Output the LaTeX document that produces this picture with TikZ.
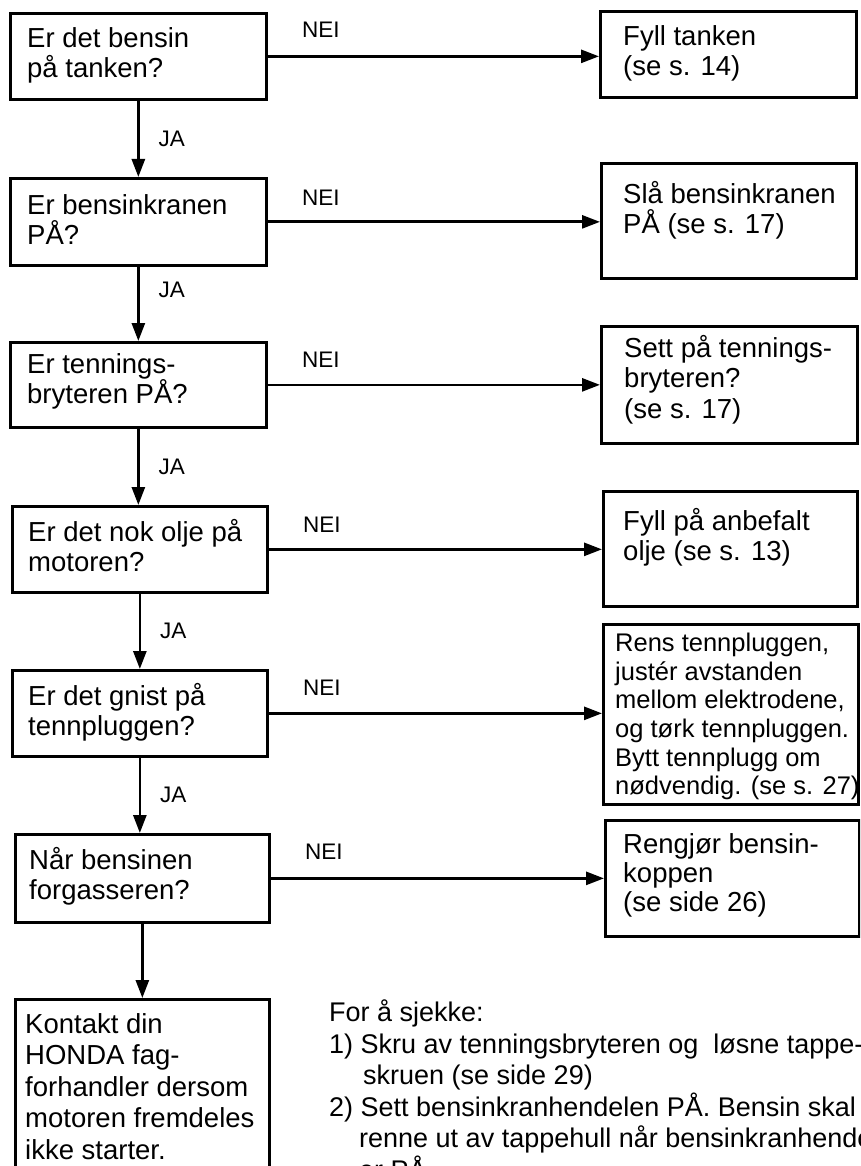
\documentclass[tikz,border=0pt]{standalone}
\usepackage{fontspec}
\setmainfont{Liberation Sans}
\usetikzlibrary{arrows.meta}

\begin{document}
\begin{tikzpicture}[x=1pt, y=-1pt,
  mybox/.style={draw, line width=2.7pt, inner sep=0pt, anchor=north west},
  mytext/.style={anchor=north west, inner sep=0pt, align=left,
    font=\fontsize{27.5}{30.5}\selectfont},
  mylabel/.style={inner sep=0pt, font=\fontsize{22.5}{26}\selectfont},
  myarrow/.style={line width=2.7pt, -{Triangle[length=18pt, width=13pt]}}]
  \clip (0,0) rectangle (860,1166);

%questions
  \node[mybox, minimum width=256pt, minimum height=86pt] (q1) at (9,12) {};
  \node[mybox, minimum width=256pt, minimum height=87pt] (q2) at (9,177) {};
  \node[mybox, minimum width=256pt, minimum height=85pt] (q3) at (9,341) {};
  \node[mybox, minimum width=255pt, minimum height=86pt] (q4) at (11,505) {};
  \node[mybox, minimum width=255pt, minimum height=86pt] (q5) at (11,669) {};
  \node[mybox, minimum width=254pt, minimum height=88pt] (q6) at (14,833) {};
  \node[mybox, minimum width=254pt, minimum height=200pt] (q7) at (14,998) {};

  \node[mytext] (q1t) at (27,27) {Er det bensin\\på tanken?};
  \node[mytext] (q2t) at (27,194) {Er bensinkranen\\PÅ?};
  \node[mytext] (q3t) at (27,353) {Er tennings-\\bryteren PÅ?};
  \node[mytext] (q4t) at (28,519) {Er det nok olje på\\motoren?};
  \node[mytext] (q5t) at (28,683) {Er det gnist på\\tennpluggen?};
  \node[mytext] (q6t) at (29,847) {Når bensinen\\forgasseren?};
  \node[mytext, font=\fontsize{27.5}{31.5}\selectfont] (q7t) at (25,1013)
    {Kontakt din\\HONDA fag-\\forhandler dersom\\motoren fremdeles\\ikke starter.};

%answers
  \node[mybox, minimum width=256pt, minimum height=86pt] (a1) at (599,10) {};
  \node[mybox, minimum width=255pt, minimum height=115pt] (a2) at (600,162) {};
  \node[mybox, minimum width=256pt, minimum height=117pt] (a3) at (600,325) {};
  \node[mybox, minimum width=254pt, minimum height=115pt] (a4) at (602,490) {};
  \node[mybox, minimum width=255pt, minimum height=180pt] (a5) at (602,623) {};
  \node[mybox, minimum width=254pt, minimum height=116pt] (a6) at (604,819) {};

  \node[mytext] (a1t) at (623,25) {Fyll tanken\\(se s. 14)};
  \node[mytext] (a2t) at (623,181) {Slå bensinkranen\\PÅ (se s. 17)};
  \node[mytext] (a3t) at (624,335) {Sett på tennings-\\bryteren?\\(se s. 17)};
  \node[mytext] (a4t) at (623,508) {Fyll på anbefalt\\olje (se s. 13)};
  \node[mytext, font=\fontsize{25.5}{28.6}\selectfont] (a5t) at (615,633)
    {Rens tennpluggen,\\justér avstanden\\mellom elektrodene,\\og tørk tennpluggen.\\Bytt tennplugg om\\nødvendig. (se s. 27)};
  \node[mytext, font=\fontsize{27.5}{29}\selectfont] (a6t) at (623,833) {Rengjør bensin-\\koppen\\(se side 26)};

%note
  \node[mytext, font=\fontsize{27}{31.5}\selectfont] (note) at (329,1000) {For å sjekke:\\1) Skru av tenningsbryteren og\ \ løsne tappe-\\\hspace*{34pt}skruen (se side 29)\\2) Sett bensinkranhendelen PÅ. Bensin skal da\\\hspace*{30pt}renne ut av tappehull når bensinkranhendelen\\\hspace*{30pt}er PÅ.};

%JA
  \draw[myarrow] (q1.south) -- node[mylabel, midway, right=19pt] (j1) {JA} (q1.south |- q2.north);
  \draw[myarrow] (q2.south) -- node[mylabel, pos=0.31, right=19pt] (j2) {JA} (q2.south |- q3.north);
  \draw[myarrow] (q3.south) -- node[mylabel, midway, right=19pt] (j3) {JA} (q3.south |- q4.north);
  \draw[myarrow] (q4.south) -- node[mylabel, midway, right=19pt] (j4) {JA} (q4.south |- q5.north);
  \draw[myarrow] (q5.south) -- node[mylabel, midway, right=19pt] (j5) {JA} (q5.south |- q6.north);
  \draw[myarrow] (q6.south) -- (q6.south |- q7.north);

%NEI
  \draw[myarrow] (q1.east) -- node[mylabel, pos=0, anchor=south west, xshift=33pt, yshift=17pt] (n1) {NEI} (q1.east -| a1.west);
  \draw[myarrow] (q2.east) -- node[mylabel, pos=0, anchor=south west, xshift=33pt, yshift=15pt] (n2) {NEI} (q2.east -| a2.west);
  \draw[myarrow] (q3.east) -- node[mylabel, pos=0, anchor=south west, xshift=33pt, yshift=16pt] (n3) {NEI} (q3.east -| a3.west);
  \draw[myarrow] (q4.east) -- node[mylabel, pos=0, anchor=south west, xshift=33pt, yshift=16pt] (n4) {NEI} (q4.east -| a4.west);
  \draw[myarrow] (q5.east) -- node[mylabel, pos=0, anchor=south west, xshift=33pt, yshift=17pt] (n5) {NEI} (q5.east -| a5.west);
  \draw[myarrow] (q6.east) -- node[mylabel, pos=0, anchor=south west, xshift=33pt, yshift=18pt] (n6) {NEI} (q6.east -| a6.west);
\end{tikzpicture}
\end{document}
